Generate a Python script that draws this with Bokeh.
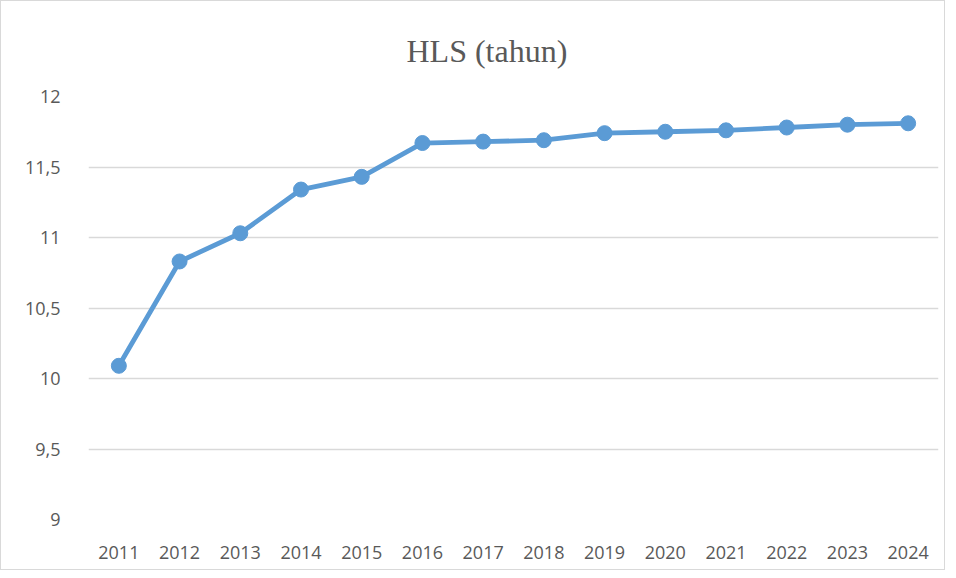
from bokeh.plotting import figure
from bokeh.models import FixedTicker, Range1d
from bokeh.embed import file_html
from bokeh.resources import INLINE

years = ["2011", "2012", "2013", "2014", "2015", "2016", "2017",
         "2018", "2019", "2020", "2021", "2022", "2023", "2024"]
hls = [10.09, 10.83, 11.03, 11.34, 11.43, 11.67, 11.68,
       11.69, 11.74, 11.75, 11.76, 11.78, 11.80, 11.81]
y_ticks = [9, 9.5, 10, 10.5, 11, 11.5, 12]
y_tick_labels = ["9", "9,5", "10", "10,5", "11", "11,5", "12"]

p = figure(x_range=years, y_range=Range1d(9, 12), width=945, height=570,
           output_backend="svg", toolbar_location=None,
           min_border_left=87, min_border_right=8,
           min_border_top=95, min_border_bottom=52)
p.styles = {"border": "1px solid #d9d9d9"}

p.title.text = "HLS (tahun)"
p.title.text_font = "Liberation Serif"
p.title.text_font_style = "normal"
p.title.text_font_size = "32px"
p.title.text_color = "#595959"
p.title.align = "left"
p.title.offset = 318
p.title.standoff = 56

p.line(years, hls, line_color="#5B9BD5", line_width=4.8)
p.scatter(years, hls, size=15, fill_color="#5B9BD5", line_color="#5B9BD5")

p.outline_line_color = None
p.xgrid.grid_line_color = None
p.ygrid.grid_line_color = "#d9d9d9"
p.ygrid.grid_line_width = 1.3

p.yaxis.ticker = FixedTicker(ticks=y_ticks)
p.yaxis.major_label_overrides = {t: l for t, l in zip(y_ticks, y_tick_labels)}
for ax in (p.xaxis[0], p.yaxis[0]):
    ax.axis_line_color = None
    ax.major_tick_line_color = None
    ax.minor_tick_line_color = None
    ax.major_label_text_font = "Open Sans"
    ax.major_label_text_font_size = "18px"
    ax.major_label_text_color = "#595959"
p.yaxis.major_label_standoff = 22
p.xaxis.major_label_standoff = 20

open("out.html", "w").write(file_html(p, INLINE))
